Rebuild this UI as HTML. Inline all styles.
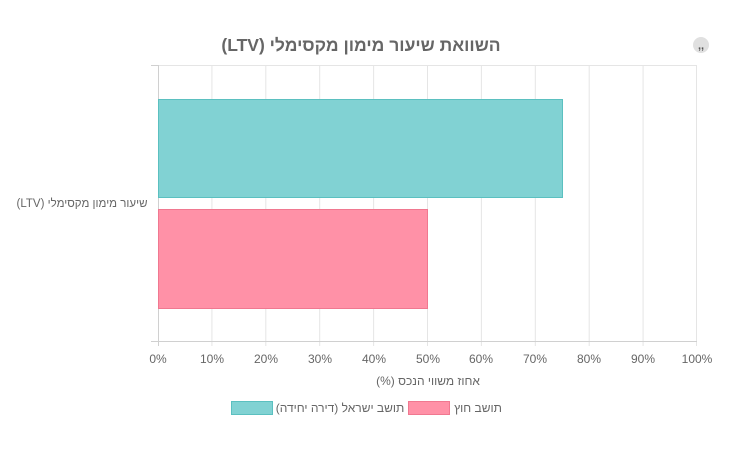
<!DOCTYPE html>
<html><head><meta charset="utf-8"><style>
body{margin:0;background:#fff;}
svg text{font-family:"Liberation Sans","Noto Sans CJK SC",sans-serif;}
</style></head><body>
<svg width="740" height="448" xmlns="http://www.w3.org/2000/svg">
<rect width="740" height="448" fill="#fff"/>
<text x="361" y="51" text-anchor="middle" font-size="17.5" font-weight="bold" fill="#666" direction="rtl">השוואת שיעור מימון מקסימלי (LTV)</text>
<circle cx="701" cy="45" r="8" fill="#e0e0e0"/>
<text x="701" y="49" text-anchor="middle" font-size="11" font-weight="bold" fill="#555">,,</text>
<g stroke="#e5e5e5" stroke-width="1">
<line x1="158" y1="65.5" x2="697" y2="65.5"/>
<line x1="211.9" y1="65" x2="211.9" y2="346"/>
<line x1="265.8" y1="65" x2="265.8" y2="346"/>
<line x1="319.7" y1="65" x2="319.7" y2="346"/>
<line x1="373.6" y1="65" x2="373.6" y2="346"/>
<line x1="427.5" y1="65" x2="427.5" y2="346"/>
<line x1="481.4" y1="65" x2="481.4" y2="346"/>
<line x1="535.3" y1="65" x2="535.3" y2="346"/>
<line x1="589.2" y1="65" x2="589.2" y2="346"/>
<line x1="643.1" y1="65" x2="643.1" y2="346"/>
<line x1="696.5" y1="65" x2="696.5" y2="346"/>
</g>
<g stroke="#d0d0d0" stroke-width="1">
<line x1="158.5" y1="65" x2="158.5" y2="346"/>
<line x1="151" y1="341.5" x2="697" y2="341.5"/>
<line x1="151" y1="65.5" x2="158" y2="65.5"/>
</g>
<rect x="158.5" y="99.5" width="404" height="98" fill="#81d2d3" stroke="#5bc0c0"/>
<rect x="158.5" y="209.5" width="269" height="99" fill="#ff91a7" stroke="#f07890"/>
<text x="82" y="207" text-anchor="middle" font-size="11.5" fill="#666" direction="rtl">שיעור מימון מקסימלי (LTV)</text>
<g font-size="12" fill="#666" text-anchor="middle">
<text x="158" y="363">0%</text><text x="212" y="363">10%</text><text x="266" y="363">20%</text>
<text x="320" y="363">30%</text><text x="374" y="363">40%</text><text x="428" y="363">50%</text>
<text x="481" y="363">60%</text><text x="535" y="363">70%</text><text x="589" y="363">80%</text>
<text x="643" y="363">90%</text><text x="697" y="363">100%</text>
</g>
<text x="428" y="385" text-anchor="middle" font-size="12" fill="#666" direction="rtl">אחוז משווי הנכס (%)</text>
<rect x="231.5" y="401.5" width="41" height="13" fill="#81d2d3" stroke="#5bc0c0"/>
<text x="340" y="412" text-anchor="middle" font-size="12" fill="#666" direction="rtl">תושב ישראל (דירה יחידה)</text>
<rect x="408.5" y="401.5" width="41" height="13" fill="#ff91a7" stroke="#f07890"/>
<text x="478" y="412" text-anchor="middle" font-size="12" fill="#666" direction="rtl">תושב חוץ</text>
<rect x="0" y="0" width="0" height="0"/>
</svg>
</body></html>
